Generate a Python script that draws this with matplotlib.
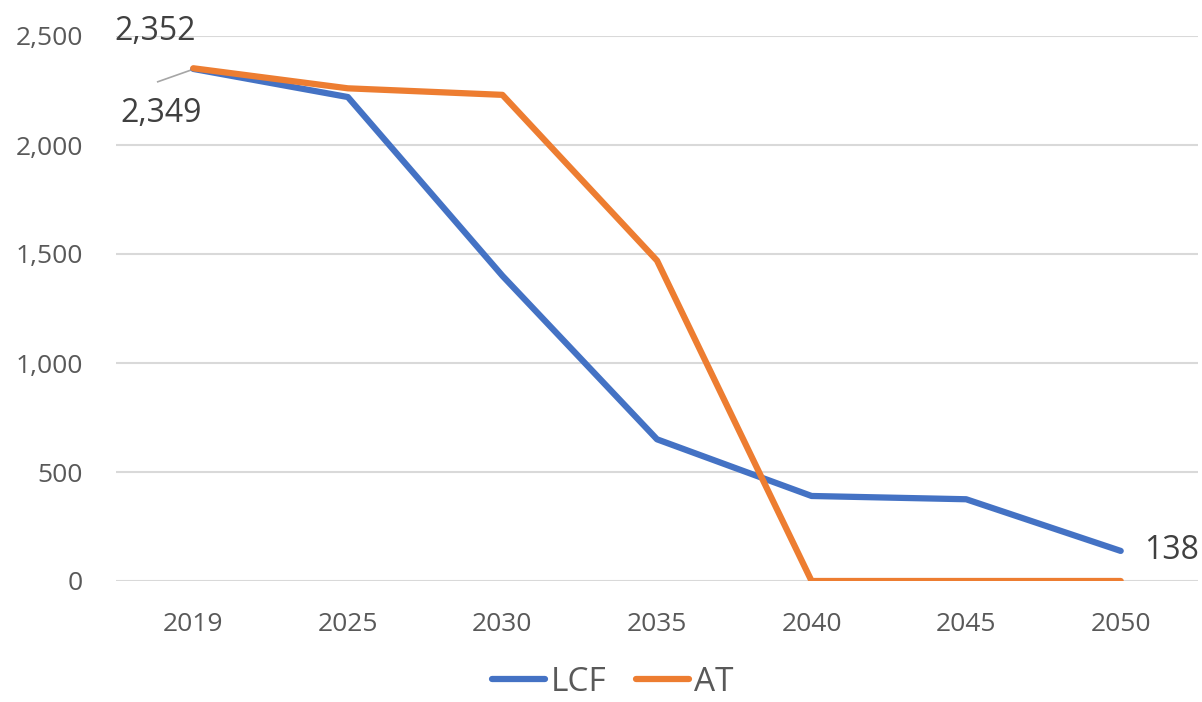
import matplotlib
matplotlib.use("Agg")
import matplotlib.pyplot as plt

years = ["2019", "2025", "2030", "2035", "2040", "2045", "2050"]
lcf = [2349, 2220, 1400, 650, 390, 375, 138]
at = [2352, 2260, 2230, 1470, 0, 0, 0]
yticks = [0, 500, 1000, 1500, 2000, 2500]

plt.rcParams['font.family'] = ['Open Sans', 'DejaVu Sans']

fig = plt.figure(figsize=(12.02, 7.02), dpi=100)
ax = fig.add_axes([116/1202, 1-581/702, (1198-116)/1202, (581-36)/702])

x = list(range(len(years)))
ax.plot(x, lcf, color="#4472C4", lw=4.5, solid_capstyle="round", solid_joinstyle="round", label="LCF", zorder=3)
ax.plot(x, at, color="#ED7D31", lw=4.5, solid_capstyle="round", solid_joinstyle="round", label="AT", zorder=4)

ax.set_xlim(-0.5, len(years)-0.5)
ax.set_ylim(0, 2500)
ax.set_yticks(yticks)
ax.set_yticklabels([f"{v:,}" for v in yticks])
ax.set_xticks(x)
ax.set_xticklabels(years)
ax.tick_params(axis="both", length=0, labelsize=19, colors="#595959")
ax.tick_params(axis="y", pad=24)
ax.tick_params(axis="x", pad=22)
ax.grid(axis="y", color="#D9D9D9", lw=1.5)
ax.set_axisbelow(True)
for s in ax.spines.values():
    s.set_visible(False)

# data labels
ax.annotate(f"{at[0]:,}", xy=(x[0], at[0]), xytext=(x[0]-0.25, 2445), ha="center", va="bottom",
            fontsize=23, color="#404040", annotation_clip=False, zorder=5)
ax.annotate(f"{lcf[0]:,}", xy=(x[0], lcf[0]), xytext=(x[0]-0.21, 2145), ha="center", va="center",
            fontsize=23, color="#404040", annotation_clip=False)
ax.plot([x[0]-0.23, x[0]-0.01], [2290, 2345], color="#A6A6A6", lw=1.2, zorder=2)
ax.annotate(f"{lcf[-1]:,}", xy=(x[-1], lcf[-1]), xytext=(17, 0), textcoords="offset points",
            ha="left", va="center", fontsize=23, color="#404040", annotation_clip=False)

leg = fig.legend(loc="lower center", bbox_to_anchor=(0.51, -0.038), ncol=2, frameon=False,
                 fontsize=24, handlelength=1.6, columnspacing=0.9, handletextpad=0.15)
for t in leg.get_texts():
    t.set_color("#595959")

fig.savefig("out.png", dpi=100)
